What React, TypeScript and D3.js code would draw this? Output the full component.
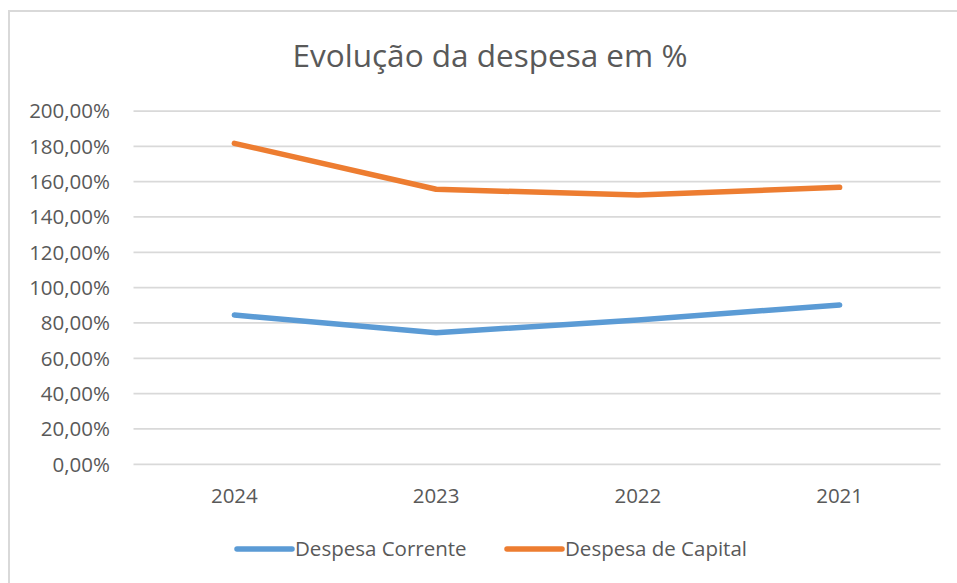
import * as d3 from 'd3'

const years = ['2024', '2023', '2022', '2021']
const despesaCorrente = [84.5, 74.5, 81.7, 90.2]
const despesaCapital = [181.7, 155.7, 152.4, 156.8]
const yTicks = [0, 20, 40, 60, 80, 100, 120, 140, 160, 180, 200]

const series = [
  { name: 'Despesa Corrente', values: despesaCorrente, color: '#5b9bd5' },
  { name: 'Despesa de Capital', values: despesaCapital, color: '#ed7d31' },
]

const width = 957
const height = 583
const font = '"Open Sans", sans-serif'
const textColor = '#595959'

export default function App() {
  const x = d3.scaleBand().domain(years).range([133.5, 940.5])
  const y = d3.scaleLinear().domain([0, 200]).range([464.3, 111])
  const fmt = (v: number) => v.toFixed(2).replace('.', ',') + '%'

  const line = (vals: number[]) =>
    d3.line<number>()
      .x((_, i) => (x(years[i]) as number) + x.bandwidth() / 2)
      .y(d => y(d))(vals) as string

  const legendX = [237, 507]

  return (
    <div style={{ position: 'absolute', left: 0, top: 0 }}>
      <svg width={width} height={height} style={{ display: 'block', background: '#fff' }}>
        {/* chart frame (only left and top edges visible) */}
        <rect x={9} y={11} width={980} height={600} fill="#fff" stroke="#d9d9d9" strokeWidth={2} />

        <text x={490} y={66.5} textAnchor="middle" fontFamily={font} fontSize={31.5} fill={textColor}>
          Evolução da despesa em %
        </text>

        {/* gridlines */}
        {yTicks.map(t => (
          <line key={t} x1={133.5} x2={940.5} y1={y(t)} y2={y(t)} stroke="#d9d9d9" strokeWidth={1.75} />
        ))}

        {/* y labels */}
        {yTicks.map(t => (
          <text key={'l' + t} x={110} y={y(t)} dy="0.36em" textAnchor="end" fontFamily={font} fontSize={20.5} fill={textColor}>
            {fmt(t)}
          </text>
        ))}

        {/* x labels */}
        {years.map(yr => (
          <text key={yr} x={(x(yr) as number) + x.bandwidth() / 2} y={503} textAnchor="middle" fontFamily={font} fontSize={20.5} fill={textColor}>
            {yr}
          </text>
        ))}

        {/* lines */}
        {series.map(s => (
          <path key={s.name} d={line(s.values)} fill="none" stroke={s.color} strokeWidth={5.5}
            strokeLinecap="round" strokeLinejoin="round" />
        ))}

        {/* legend */}
        {series.map((s, i) => (
          <g key={'lg' + s.name}>
            <line x1={legendX[i]} x2={legendX[i] + 55} y1={549} y2={549} stroke={s.color} strokeWidth={5.5} strokeLinecap="round" />
            <text x={legendX[i] + 58} y={556} fontFamily={font} fontSize={20.5} fill={textColor}>
              {s.name}
            </text>
          </g>
        ))}
      </svg>
    </div>
  )
}
